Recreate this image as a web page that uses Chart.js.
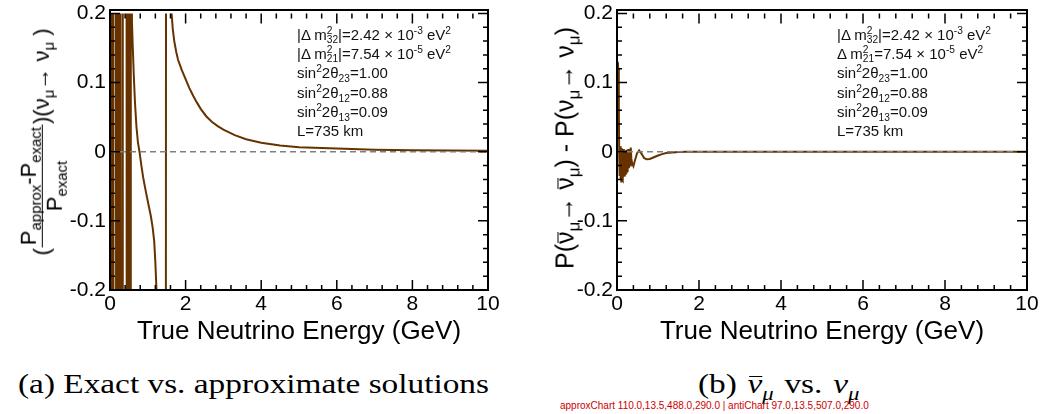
<!DOCTYPE html>
<html>
<head>
<meta charset="utf-8">
<script src="https://cdn.jsdelivr.net/npm/chart.js@4.4.0/dist/chart.umd.min.js"></script>
<style>
  body { margin: 0; background: #fff; width: 1046px; height: 414px; position: relative; overflow: hidden;
         font-family: "Liberation Sans", Arial, sans-serif; color: #000; }
  canvas { position: absolute; top: 0; }
  #approxChart { left: 0; }
  #antiChart { left: 520px; }
  sub, sup { font-size: 0.68em; line-height: 0; }
  .ytitle { position: absolute; transform: translate(-50%, -50%) rotate(-90deg); white-space: nowrap; }
  #ytLeft { left: 42px; top: 142px; font-size: 22px; display: flex; align-items: center; }
  #ytRight { left: 565px; top: 148px; font-size: 25px; }
  .frac { display: inline-flex; flex-direction: column; align-items: center; margin: 0 1px; }
  .frac .num { border-bottom: 1.5px solid #000; line-height: 1.1; padding: 0 2px 1px; }
  .frac .den { line-height: 1.1; }
  .bar { position: relative; display: inline-block; line-height: 1; }
  .bar::before { content: ''; position: absolute; left: 8%; right: 4%; top: 0.2em; border-top: 1.5px solid #000; }
  .note { position: absolute; top: 25px; font-size: 15px; color: #111; }
  .note div { height: 19.2px; line-height: 19.2px; white-space: nowrap; }
  .stk { display: inline-flex; flex-direction: column; font-size: 0.68em; line-height: 0.85; vertical-align: 6px; }
  .cap { position: absolute; top: 370px; font-family: "Liberation Serif", serif; font-size: 28px; line-height: 1;
         white-space: nowrap; transform: scaleX(1.19); transform-origin: 0 0; }
  .cap .m { margin: 0 9px; }
  .frame { position: absolute; box-sizing: border-box; border: 2px solid #000; }
  #diag { position: absolute; left: 560px; top: 400px; font-size: 10px; color: #c00; white-space: nowrap; }
</style>
</head>
<body>
<canvas id="approxChart" width="520" height="360"></canvas>
<canvas id="antiChart" width="526" height="360"></canvas>

<div class="frame" style="left:109px; top:8.5px; width:380px; height:282.5px"></div>
<div class="frame" style="left:616px; top:8.5px; width:412px; height:282.5px"></div>

<div class="ytitle" id="ytLeft">
  <span>(</span>
  <span class="frac"><span class="num">P<sub>approx</sub>-P<sub>exact</sub></span><span class="den">P<sub>exact</sub></span></span>
  <span>)</span>
  <span>(ν<sub>μ</sub>→ ν<sub>μ</sub> )</span>
</div>
<div class="ytitle" id="ytRight">P(<span class="bar">ν</span><sub>μ</sub>→ <span class="bar">ν</span><sub>μ</sub>) - P(ν<sub>μ</sub>→ ν<sub>μ</sub>)</div>

<div class="note" style="left:297px">
  <div>|Δ m<span class="stk"><span>2</span><span>32</span></span>|=2.42 × 10<sup>-3</sup> eV<sup>2</sup></div>
  <div>|Δ m<span class="stk"><span>2</span><span>21</span></span>|=7.54 × 10<sup>-5</sup> eV<sup>2</sup></div>
  <div>sin<sup>2</sup>2θ<sub>23</sub>=1.00</div>
  <div>sin<sup>2</sup>2θ<sub>12</sub>=0.88</div>
  <div>sin<sup>2</sup>2θ<sub>13</sub>=0.09</div>
  <div>L=735 km</div>
</div>
<div class="note" style="left:837px">
  <div>|Δ m<span class="stk"><span>2</span><span>32</span></span>|=2.42 × 10<sup>-3</sup> eV<sup>2</sup></div>
  <div>Δ m<span class="stk"><span>2</span><span>21</span></span>=7.54 × 10<sup>-5</sup> eV<sup>2</sup></div>
  <div>sin<sup>2</sup>2θ<sub>23</sub>=1.00</div>
  <div>sin<sup>2</sup>2θ<sub>12</sub>=0.88</div>
  <div>sin<sup>2</sup>2θ<sub>13</sub>=0.09</div>
  <div>L=735 km</div>
</div>

<div class="cap" style="left:18px">(a) Exact vs. approximate solutions</div>
<div class="cap" style="left:698px">(b)<i class="m"><span class="bar">ν</span><sub>μ</sub></i>vs.<i class="m">ν<sub>μ</sub></i></div>
<div id="diag"></div>

<script>
// energy axis (GeV) and relative error of the approximate formula
const approxE = [0.000, 0.006, 0.041, 0.047, 0.085, 0.091, 0.156, 0.162, 0.191, 0.197,
  0.217, 0.223, 0.262, 0.268, 0.288, 0.294, 0.332, 0.338, 0.437, 0.443,
  0.482, 0.488, 0.508, 0.514, 0.544, 0.550, 0.566, 0.580, 0.600, 0.630,
  0.660, 0.700, 0.740, 0.780, 0.830, 0.880, 0.950, 1.020, 1.080, 1.130,
  1.170, 1.200, 1.230, 1.260, 1.350, 1.477, 1.483, 1.600, 1.630, 1.660,
  1.700, 1.750, 1.800, 1.900, 2.000, 2.100, 2.200, 2.300, 2.400, 2.550,
  2.700, 2.850, 3.000, 3.300, 3.600, 4.000, 4.500, 5.000, 6.000, 7.000,
  8.000, 9.000, 10.000];
const approxRelErr = [-0.03, 0.5, 0.5, -0.5, -0.5, 0.5, 0.5, -0.5, -0.5, 0.5,
  0.5, -0.5, -0.5, 0.5, 0.5, -0.5, -0.5, 0.5, 0.5, -0.5,
  -0.5, 0.5, 0.5, -0.5, -0.5, 0.5, 0.5, 0.19, 0.155, 0.11,
  0.072, 0.036, 0.013, 0.0, -0.02, -0.038, -0.058, -0.077, -0.093, -0.11,
  -0.13, -0.16, -0.2, -0.26, -0.5, -0.5, 0.5, 0.32, 0.2, 0.178,
  0.16, 0.145, 0.133, 0.118, 0.105, 0.092, 0.081, 0.071, 0.062, 0.051,
  0.043, 0.037, 0.032, 0.024, 0.018, 0.013, 0.009, 0.0065, 0.0045, 0.003,
  0.0022, 0.0017, 0.0014];

// P(anti-numu survival) - P(numu survival)
const antiE = [0.005, 0.020, 0.030, 0.045, 0.055, 0.065, 0.075, 0.085, 0.095, 0.105,
  0.115, 0.125, 0.135, 0.145, 0.155, 0.165, 0.175, 0.185, 0.195, 0.205,
  0.215, 0.225, 0.235, 0.245, 0.255, 0.265, 0.275, 0.290, 0.305, 0.320,
  0.335, 0.350, 0.370, 0.400, 0.440, 0.490, 0.540, 0.600, 0.660, 0.720,
  0.800, 0.900, 1.000, 1.100, 1.200, 1.350, 1.500, 1.700, 2.000, 3.000,
  4.000, 5.000, 6.000, 7.000, 8.000, 9.000, 10.000];
const antiDiff = [0.04, 0.13, 0.12, 0.06, -0.01, -0.035, 0.008, -0.04, 0.003, -0.043,
  0.005, -0.038, -0.002, -0.04, 0.004, -0.035, -0.003, -0.036, 0.002, -0.032,
  -0.004, -0.03, 0.003, -0.028, -0.006, -0.026, 0.004, -0.024, -0.002, -0.02,
  0.006, -0.01, -0.017, -0.021, -0.012, -0.002, 0.002, -0.003, -0.009, -0.011,
  -0.0105, -0.008, -0.0055, -0.0035, -0.002, -0.001, -0.0004, 0, 0, 0,
  0, 0, 0, 0, 0, 0, 0];

// dashed reference line at zero
const zeroE = [0, 10];
const zeroY = [0, 0];

const xTicks = [0, 2, 4, 6, 8, 10];
const yTicks = [-0.2, -0.1, 0, 0.1, 0.2];

const FONT = 'Liberation Sans';
const tickFont = { family: FONT, size: 21, lineHeight: 0.9 };
const diag = [];

// inward major/minor ticks on all four sides
const innerTicks = {
  id: 'innerTicks',
  afterDraw(chart) {
    const ctx = chart.ctx;
    const a = chart.chartArea;
    const x = chart.scales.x;
    const y = chart.scales.y;
    ctx.save();
    ctx.strokeStyle = '#000';
    ctx.lineWidth = 1.5;
    ctx.beginPath();
    for (let i = 0; i <= 25; i++) {
      const px = x.getPixelForValue(i * 0.4);
      const len = i % 5 === 0 ? 10 : 5;
      ctx.moveTo(px, a.bottom); ctx.lineTo(px, a.bottom - len);
      ctx.moveTo(px, a.top); ctx.lineTo(px, a.top + len);
    }
    for (let i = -10; i <= 10; i++) {
      const py = y.getPixelForValue(i * 0.02);
      const len = i % 5 === 0 ? 10 : 5;
      ctx.moveTo(a.left, py); ctx.lineTo(a.left + len, py);
      ctx.moveTo(a.right, py); ctx.lineTo(a.right - len, py);
    }
    ctx.stroke();
    ctx.restore();
    diag.push(chart.canvas.id + ' ' + [a.left, a.top, a.right, a.bottom].map(v => v.toFixed(1)).join(','));
  }
};

function buildChart(id, xs, ys, areaLeft, padRight) {
  const curve = xs.map((e, i) => ({ x: e, y: ys[i] }));
  const zero = zeroE.map((e, i) => ({ x: e, y: zeroY[i] }));
  return new Chart(document.getElementById(id), {
    type: 'line',
    data: {
      datasets: [
        { data: zero, borderColor: '#808080', borderWidth: 1.5, borderDash: [6, 4], pointRadius: 0 },
        { data: curve, borderColor: 'rgb(102, 51, 0)', borderWidth: 2, pointRadius: 0, tension: 0 }
      ]
    },
    options: {
      responsive: false,
      animation: false,
      layout: { padding: { top: 5.5, right: padRight, left: 0, bottom: 0 } },
      plugins: { legend: { display: false }, tooltip: { enabled: false } },
      scales: {
        x: {
          type: 'linear', min: 0, max: 10,
          afterBuildTicks: s => { s.ticks = xTicks.map(v => ({ value: v })); },
          ticks: { font: tickFont, color: '#000', padding: 5, maxRotation: 0, autoSkip: false },
          grid: { display: false, drawTicks: false },
          border: { display: false },
          title: { display: true, text: 'True Neutrino Energy (GeV)', color: '#000',
                   font: { family: FONT, size: 26, lineHeight: 1 }, padding: { top: 0, bottom: 15 } },
          afterFit: s => { s.height = 70; }
        },
        y: {
          type: 'linear', min: -0.2, max: 0.2,
          afterBuildTicks: s => { s.ticks = yTicks.map(v => ({ value: v })); },
          ticks: { font: tickFont, color: '#000', padding: 4 },
          grid: { display: false, drawTicks: false },
          border: { display: false },
          afterFit: s => { s.width = areaLeft; }
        }
      }
    },
    plugins: [innerTicks]
  });
}

try {
  buildChart('approxChart', approxE, approxRelErr, 110, 32);
  buildChart('antiChart', antiE, antiDiff, 97, 19);
} catch (e) { diag.push('ERR ' + e.message); }
document.getElementById('diag').textContent = diag.join(' | ');
</script>
</body>
</html>
